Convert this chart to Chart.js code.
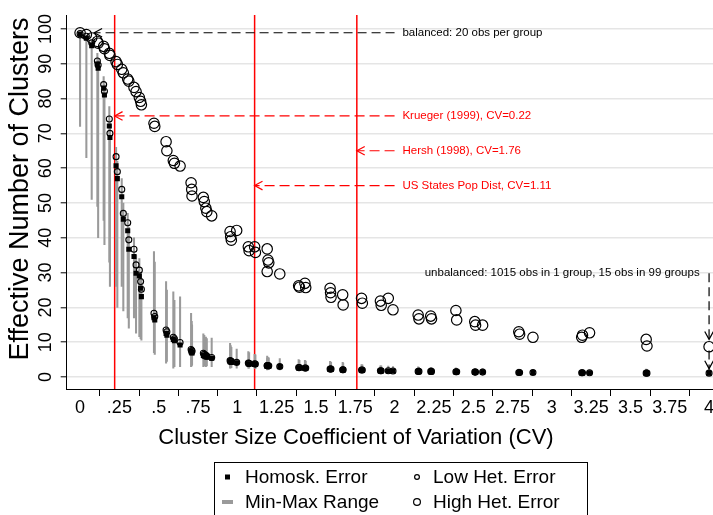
<!DOCTYPE html>
<html lang="en">
<head>
  <meta charset="UTF-8">
  <title>Effective Number of Clusters</title>
  <script src="https://cdn.jsdelivr.net/npm/chart.js@4.4.4/dist/chart.umd.min.js"></script>
  <style>
    html, body { margin: 0; padding: 0; background: #fff; overflow: hidden; }
    #wrap { width: 713px; height: 515px; position: relative; }
  </style>
</head>
<body>
  <div id="wrap"><canvas id="chart" width="713" height="515"></canvas></div>

  <script>
    // one entry per simulated design (cluster size CV)
    const cv = [0, 0.04, 0.074, 0.11, 0.115, 0.15, 0.155, 0.186, 0.19, 0.229, 0.237, 0.265, 0.275, 0.303, 0.31, 0.343, 0.356, 0.377, 0.385, 0.39,
      0.47, 0.475, 0.547, 0.552, 0.593, 0.6, 0.636, 0.706, 0.71, 0.712, 0.784, 0.79, 0.8, 0.806, 0.837, 0.954, 0.958, 0.962, 0.996,
      1.07, 1.075, 1.11, 1.115, 1.19, 1.195, 1.2, 1.19, 1.27, 1.39, 1.395, 1.43, 1.435, 1.59, 1.593, 1.596, 1.67, 1.673, 1.79, 1.795,
      1.91, 1.915, 1.96, 1.99, 2.15, 2.155, 2.23, 2.235, 2.39, 2.395, 2.51, 2.515, 2.56, 2.79, 2.795, 2.88, 3.19, 3.195, 3.24, 3.6, 3.605, 4];
    const homosk = [98.5, 97.3, 95.2, 89.9, 88.7, 83, 81, 72.1, 68.8, 60.7, 57, 51.8, 45.3, 42, 36.7, 34.6, 29.8, 29, 25.5, 23.1,
      17, 16.4, 12.5, 12, 10.8, 10.4, 9.2, 7.3, 7, 6.9, 6.2, 6, 5.8, 5.7, 5.4, 4.4, 4.3, 4.2, 4.1,
      3.8, 3.7, 3.6, 3.6, 3.2, 3.2, 3.1, 3.1, 3, 2.6, 2.6, 2.5, 2.5, 2.2, 2.2, 2.2, 2.1, 2.1, 1.9, 1.9,
      1.8, 1.8, 1.7, 1.7, 1.6, 1.6, 1.5, 1.5, 1.5, 1.5, 1.4, 1.4, 1.4, 1.3, 1.3, 1.3, 1.2, 1.2, 1.2, 1.1, 1.1, 1.1];
    const lowHet = [98.7, 97.9, 96, 90.8, 89.6, 84, 82.1, 74.1, 70, 63.3, 59, 53.9, 47, 44.3, 39.4, 36.7, 32.2, 30.7, 27.4, 25.2,
      18.3, 17.4, 13.5, 13, 11.4, 11, 9.9, 7.9, 7.6, 7.4, 6.8, 6.5, 6.2, 6, 5.6, 4.7, 4.6, 4.5, 4.2,
      4, 3.9, 3.8, 3.7, 3.3, 3.3, 3.2, 3.2, 3, 2.7, 2.7, 2.6, 2.6, 2.3, 2.3, 2.3, 2.1, 2.1, 2, 2,
      1.8, 1.8, 1.8, 1.7, 1.6, 1.6, 1.6, 1.6, 1.5, 1.5, 1.4, 1.4, 1.4, 1.3, 1.3, 1.3, 1.2, 1.2, 1.2, 1.1, 1.1, 1.1];
    const highHet = [98.9, 98.4, 97.4, 96.4, 95.9, 95, 94.3, 93, 92.4, 90.6, 89.8, 88.4, 87.4, 85.6, 85, 83.2, 82, 80.3, 79.2, 78.2,
      72.9, 72, 67.6, 65, 62.2, 61.4, 60.6, 55.8, 53.9, 52, 51.6, 50.4, 48.5, 47.5, 46.3, 41.8, 40.3, 39.3, 42.1,
      37.4, 36.3, 37.4, 35.8, 36.8, 33.6, 32.8, 30.3, 29.6, 26.2, 25.8, 26.9, 25.7, 25.5, 24.2, 22.9, 23.6, 20.7, 22.6, 21.2,
      21.8, 20.6, 22.6, 19.3, 17.8, 16.7, 17.5, 16.7, 19.1, 16.4, 15.9, 14.9, 14.9, 13, 12.3, 11.4, 11.4, 12, 12.7, 10.8, 8.9, 8.7];
    const rangeMin = [72, 63, 51, 49, 40, 45, 38, 33, 26, 26, 20, 26, 19, 17, 14, 17, 12.6, 11.6, 11, 10.6,
      7, 6.5, 4, 4.5, 2.5, 3, 3, 3, 3.2, 3.5, 3, 3.2, 3, 3.2, 3, 2.5, 2.6, 2.7, 2.5,
      2.5, 2.5, 2.5, 2.4, 2, 2.1, 2.1, 2.1, 2, 1.8, 1.8, 1.8, 1.7, 1.6, 1.6, 1.6, 1.5, 1.5, 1.4, 1.4,
      1.3, 1.3, 1.3, 1.3, 1.2, 1.2, 1.2, 1.2, 1.1, 1.1, 1.1, 1.1, 1.1, 1, 1, 1, 1, 1, 1, 0.9, 0.9, 0.9];
    const rangeMax = [99, 98.2, 96.5, 93, 91.4, 86.3, 84, 77.7, 73, 66, 62, 57, 50, 47, 43, 40, 35, 34, 30, 28,
      36, 33, 27.4, 25, 24.5, 22, 23, 18.3, 16, 15, 12.4, 12, 11.5, 11, 11.2, 9.7, 9, 8.5, 8,
      7.3, 7, 6.5, 6.4, 6, 5.6, 5.5, 5.4, 5.3, 5, 4.8, 4.8, 4.6, 4.5, 4.3, 4.2, 4.2, 4, 3.6, 3.5,
      3.2, 3.2, 3.1, 3, 2.9, 2.8, 2.8, 2.7, 2.6, 2.5, 2.5, 2.4, 2.4, 2.3, 2.2, 2.2, 2.1, 2.1, 2, 2.3, 2.2, 2.3];

    const xTicks = [0, 0.25, 0.5, 0.75, 1, 1.25, 1.5, 1.75, 2, 2.25, 2.5, 2.75, 3, 3.25, 3.5, 3.75, 4];
    const xTickLabels = ['0', '.25', '.5', '.75', '1', '1.25', '1.5', '1.75', '2', '2.25', '2.5', '2.75', '3', '3.25', '3.5', '3.75', '4'];
    const yTicks = [0, 10, 20, 30, 40, 50, 60, 70, 80, 90, 100];

    // reference studies (red lines) and where their labels sit
    const refCV = [0.22, 1.76, 1.11];
    const refY = [75, 65, 55];
    const refText = ['Krueger (1999), CV=0.22', 'Hersh (1998), CV=1.76', 'US States Pop Dist, CV=1.11'];

    const FONT = "'Liberation Sans', Arial, Helvetica, sans-serif";
    const RED = '#ff0000';

    function arrow(ctx, x0, y0, x1, y1, dash) {
      ctx.setLineDash(dash);
      ctx.beginPath(); ctx.moveTo(x0, y0); ctx.lineTo(x1, y1); ctx.stroke();
      ctx.setLineDash([]);
      const a = Math.atan2(y1 - y0, x1 - x0), L = 9, w = 0.5;
      ctx.beginPath();
      ctx.moveTo(x1 - L * Math.cos(a - w), y1 - L * Math.sin(a - w));
      ctx.lineTo(x1, y1);
      ctx.lineTo(x1 - L * Math.cos(a + w), y1 - L * Math.sin(a + w));
      ctx.stroke();
    }

    const decor = {
      id: 'decor',
      beforeDatasetsDraw(chart) {
        const { ctx, chartArea: a, scales: { x } } = chart;
        ctx.save();
        ctx.strokeStyle = RED;
        ctx.lineWidth = 1.5;
        refCV.forEach(v => {
          const px = x.getPixelForValue(v);
          ctx.beginPath(); ctx.moveTo(px, a.top); ctx.lineTo(px, a.bottom); ctx.stroke();
        });
        ctx.restore();
      },
      afterDatasetsDraw(chart) {
        const { ctx, scales: { x, y } } = chart;
        ctx.save();
        ctx.font = '11.5px ' + FONT;
        ctx.textBaseline = 'middle';
        ctx.lineWidth = 1.2;

        // balanced design
        ctx.strokeStyle = '#000'; ctx.fillStyle = '#000';
        arrow(ctx, x.getPixelForValue(2.0), y.getPixelForValue(98.9), x.getPixelForValue(0.09), y.getPixelForValue(98.9), [9, 5]);
        ctx.fillText('balanced: 20 obs per group', x.getPixelForValue(2.05), y.getPixelForValue(98.9));

        // reference studies
        ctx.strokeStyle = RED; ctx.fillStyle = RED;
        refCV.forEach((v, i) => {
          const py = y.getPixelForValue(refY[i]);
          arrow(ctx, x.getPixelForValue(2.0), py, x.getPixelForValue(v), py, [10, 5]);
          ctx.fillText(refText[i], x.getPixelForValue(2.05), py);
        });

        // most unbalanced design
        ctx.strokeStyle = '#000'; ctx.fillStyle = '#000';
        ctx.textAlign = 'right';
        ctx.fillText('unbalanced: 1015 obs in 1 group, 15 obs in 99 groups', x.getPixelForValue(3.94), y.getPixelForValue(29.8));
        const ux = x.getPixelForValue(4);
        arrow(ctx, ux, y.getPixelForValue(29.8), ux, y.getPixelForValue(10.8), [9, 5]);
        arrow(ctx, ux, y.getPixelForValue(7.6), ux, y.getPixelForValue(2.4), [9, 5]);
        ctx.restore();
      },
      afterDraw(chart) {
        const { ctx, scales: { x, y } } = chart;
        ctx.save();
        ctx.fillStyle = '#000';
        ctx.textAlign = 'center';
        ctx.textBaseline = 'middle';
        ctx.font = '18px ' + FONT;

        // x tick labels
        xTicks.forEach((v, i) => ctx.fillText(xTickLabels[i], x.getPixelForValue(v), 408));

        // y tick labels, rotated like the original
        yTicks.forEach(v => {
          ctx.save();
          ctx.translate(46, y.getPixelForValue(v));
          ctx.rotate(-Math.PI / 2);
          ctx.fillText(String(v), 0, 0);
          ctx.restore();
        });

        // axis titles
        ctx.save();
        ctx.font = '27px ' + FONT;
        ctx.translate(21, 189);
        ctx.rotate(-Math.PI / 2);
        ctx.fillText('Effective Number of Clusters', 0, 0);
        ctx.restore();
        ctx.font = '22px ' + FONT;
        ctx.fillText('Cluster Size Coefficient of Variation (CV)', 356, 438);

        // legend box (2 x 2)
        ctx.strokeStyle = '#000';
        ctx.lineWidth = 1;
        ctx.strokeRect(214.5, 462.5, 373, 60);
        ctx.font = '19px ' + FONT;
        ctx.textAlign = 'left';
        ctx.fillRect(225, 474.5, 5, 5);
        ctx.fillText('Homosk. Error', 245, 478);
        ctx.fillStyle = '#9a9a9a';
        ctx.fillRect(222, 500, 11, 4);
        ctx.fillStyle = '#000';
        ctx.fillText('Min-Max Range', 245, 503);
        ctx.lineWidth = 1.2;
        ctx.beginPath(); ctx.arc(417, 477, 2.4, 0, Math.PI * 2); ctx.stroke();
        ctx.fillText('Low Het. Error', 433, 478);
        ctx.beginPath(); ctx.arc(417, 502, 3.4, 0, Math.PI * 2); ctx.stroke();
        ctx.fillText('High Het. Error', 433, 503);
        ctx.restore();
      }
    };

    const pts = vals => cv.map((v, i) => ({ x: v, y: vals[i] }));

    new Chart(document.getElementById('chart'), {
      type: 'scatter',
      data: {
        datasets: [
          {
            label: 'High Het. Error', data: pts(highHet), pointStyle: 'circle', pointRadius: 5.2,
            borderColor: '#000', borderWidth: 1.2, backgroundColor: 'rgba(0,0,0,0)'
          },
          {
            label: 'Low Het. Error', data: pts(lowHet), pointStyle: 'circle', pointRadius: 3,
            borderColor: '#000', borderWidth: 1.1, backgroundColor: 'rgba(0,0,0,0)'
          },
          {
            label: 'Homosk. Error', data: pts(homosk), pointStyle: 'rect', pointRadius: 3.6,
            borderWidth: 0, borderColor: '#000', backgroundColor: '#000'
          },
          {
            type: 'bar', label: 'Min-Max Range',
            data: cv.map((v, i) => ({ x: v, y: [rangeMin[i], rangeMax[i]] })),
            backgroundColor: '#9a9a9a', borderWidth: 0, barThickness: 1.4, grouped: false
          }
        ]
      },
      options: {
        responsive: false,
        animation: false,
        layout: { autoPadding: false, padding: { top: 15, right: 0, left: 0, bottom: 0 } },
        plugins: { legend: { display: false }, tooltip: { enabled: false } },
        scales: {
          x: {
            type: 'linear', min: -0.085, max: 4.025, offset: false,
            afterBuildTicks: s => { s.ticks = xTicks.map(v => ({ value: v })); },
            afterFit: s => { s.height = 126; },
            ticks: { display: false },
            grid: { drawOnChartArea: false, drawTicks: true, tickLength: 7, tickColor: '#000', tickWidth: 1 },
            border: { display: true, color: '#000', width: 1 }
          },
          y: {
            type: 'linear', min: -3.45, max: 104,
            afterBuildTicks: s => { s.ticks = yTicks.map(v => ({ value: v })); },
            afterFit: s => { s.width = 66.7; },
            ticks: { display: false },
            grid: { color: '#e5e5e5', lineWidth: 1.6, drawTicks: true, tickLength: 6, tickColor: '#000', tickWidth: 1 },
            border: { display: true, color: '#000', width: 1 }
          }
        }
      },
      plugins: [decor]
    });
  </script>
</body>
</html>
